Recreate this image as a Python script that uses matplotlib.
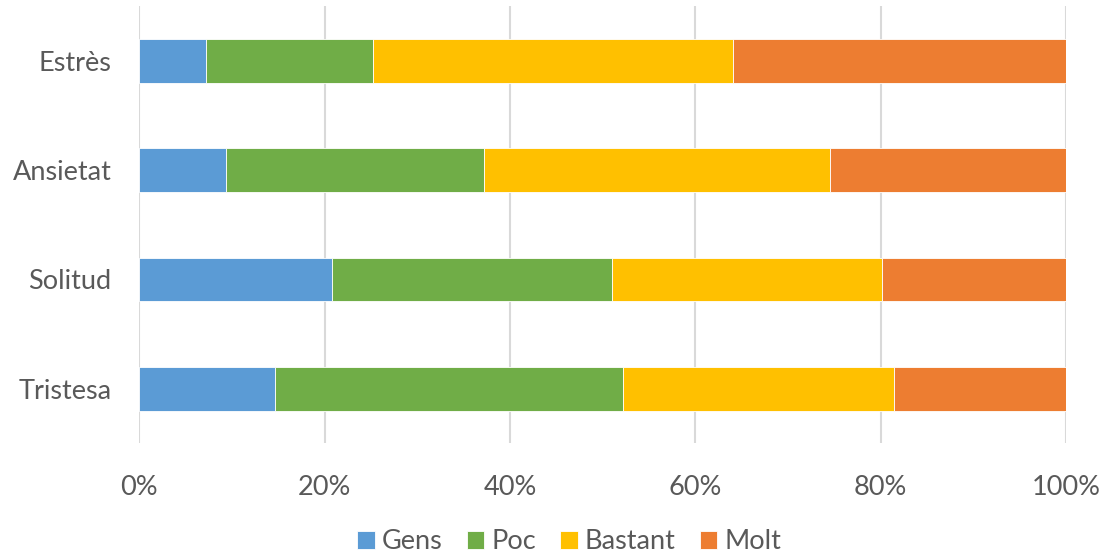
import matplotlib
matplotlib.use("Agg")
import matplotlib.pyplot as plt
import numpy as np

categories = ["Estrès", "Ansietat", "Solitud", "Tristesa"]
series_names = ["Gens", "Poc", "Bastant", "Molt"]
gens = [7.2, 9.4, 20.8, 14.6]
poc = [18.0, 27.8, 30.2, 37.6]
bastant = [38.9, 37.3, 29.1, 29.2]
molt = [35.9, 25.5, 19.9, 18.6]
colors = ["#5B9BD5", "#70AD47", "#FFC000", "#ED7D31"]
xticks = [0, 20, 40, 60, 80, 100]
xtick_labels = ["0%", "20%", "40%", "60%", "80%", "100%"]

plt.rcParams['font.family'] = ['Lato', 'DejaVu Sans']
txt = "#595959"
fs = 19.5

fig = plt.figure(figsize=(11.05, 5.55), dpi=100)
ax = fig.add_axes([139.3/1105, 1-443.3/555, (1066-139.3)/1105, (443.3-6.4)/555])

ypos = np.arange(len(categories))
left = np.zeros(len(categories))
for name, vals, c in zip(series_names, [gens, poc, bastant, molt], colors):
    vals = np.array(vals, dtype=float)
    ax.barh(ypos, vals, left=left, height=0.4, color=c, label=name,
            edgecolor="white", linewidth=0.6, zorder=3)
    left += vals

ax.set_ylim(len(categories)-0.5, -0.5)
ax.set_xlim(0, 100)
ax.set_yticks(ypos)
ax.set_yticklabels(categories, fontsize=fs, color=txt)
ax.set_xticks(xticks)
ax.set_xticklabels(xtick_labels, fontsize=fs, color=txt)
ax.tick_params(axis='both', length=0)
ax.tick_params(axis='x', pad=23)
ax.tick_params(axis='y', pad=20)
ax.grid(axis='x', color="#d9d9d9", linewidth=1.5, zorder=0)
for s in ax.spines.values():
    s.set_visible(False)

fig.legend(loc='center', bbox_to_anchor=(0.515, 1-541.7/555), ncol=4, frameon=False,
           fontsize=fs, handlelength=0.65, handleheight=0.65, handletextpad=0.25,
           columnspacing=0.9, labelcolor=txt)

fig.savefig("out.png", dpi=100)
